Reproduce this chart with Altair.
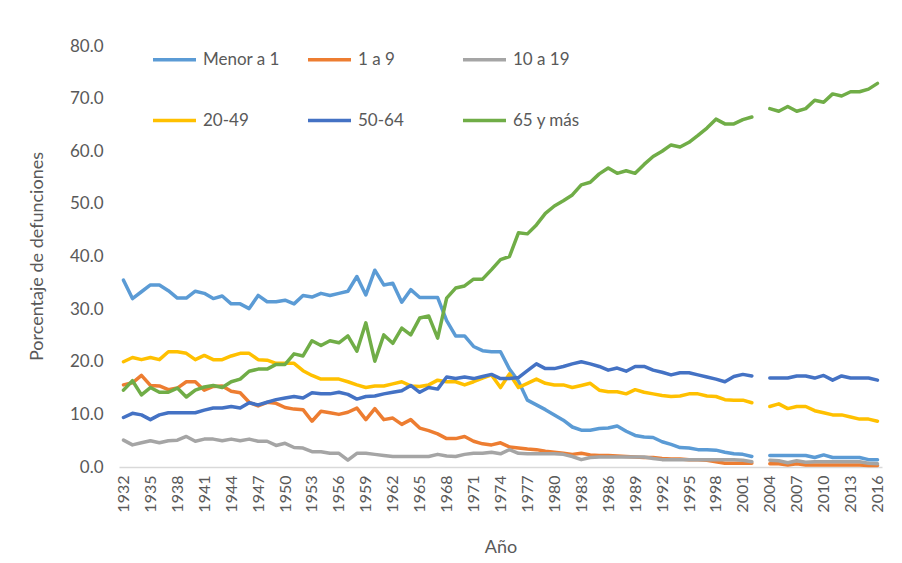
import altair as alt
import pandas as pd

years = list(range(1932, 2017))
label_years = list(range(1932, 2017, 3))
y_ticks = [0, 10, 20, 30, 40, 50, 60, 70, 80]

series_names = ["Menor a 1", "1 a 9", "10 a 19", "20-49", "50-64", "65 y más"]
series_colors = ["#5B9BD5", "#ED7D31", "#A5A5A5", "#FFC000", "#4472C4", "#70AD47"]

# values 1932..2002, then 2003 (missing), then 2004..2016
menor_a_1 = [
    35.5, 32.0, 33.3, 34.6, 34.6, 33.5, 32.1, 32.1, 33.4, 33.0,
    32.0, 32.5, 31.0, 31.0, 30.1, 32.6, 31.4, 31.4, 31.7, 31.0,
    32.6, 32.3, 33.0, 32.6, 33.0, 33.4, 36.2, 32.7, 37.4, 34.6,
    34.9, 31.3, 33.7, 32.2, 32.2, 32.2, 27.8, 24.9, 24.9, 22.9,
    22.1, 21.9, 21.9, 18.6, 16.3, 12.7, 11.8, 10.9, 9.9, 8.9,
    7.6, 7.0, 7.0, 7.3, 7.4, 7.8, 6.8, 6.0, 5.7, 5.6,
    4.8, 4.3, 3.7, 3.6, 3.3, 3.3, 3.2, 2.8, 2.5, 2.4, 2.0,
    None,
    2.2, 2.2, 2.2, 2.2, 2.2, 1.8, 2.3, 1.8, 1.8, 1.8, 1.8, 1.4, 1.4,
]
uno_a_9 = [
    15.6, 16.0, 17.4, 15.5, 15.4, 14.7, 15.0, 16.2, 16.2, 14.6,
    15.3, 15.4, 14.4, 14.1, 12.3, 11.6, 12.3, 12.1, 11.3, 11.0,
    10.9, 8.7, 10.6, 10.3, 10.0, 10.4, 11.2, 9.0, 11.1, 9.0,
    9.3, 8.1, 9.0, 7.4, 6.9, 6.3, 5.4, 5.4, 5.8, 4.9,
    4.4, 4.2, 4.6, 3.8, 3.6, 3.4, 3.3, 3.0, 2.8, 2.6,
    2.4, 2.6, 2.3, 2.2, 2.2, 2.1, 2.0, 1.9, 1.8, 1.8,
    1.6, 1.5, 1.5, 1.4, 1.4, 1.3, 1.0, 0.7, 0.7, 0.7, 0.7,
    None,
    0.6, 0.6, 0.4, 0.6, 0.4, 0.4, 0.4, 0.4, 0.4, 0.4, 0.4, 0.3, 0.3,
]
diez_a_19 = [
    5.1, 4.2, 4.6, 5.0, 4.6, 5.0, 5.1, 5.8, 4.9, 5.3,
    5.3, 5.0, 5.3, 5.0, 5.3, 4.9, 4.9, 4.1, 4.5, 3.7,
    3.6, 2.9, 2.9, 2.6, 2.6, 1.3, 2.6, 2.6, 2.4, 2.2,
    2.0, 2.0, 2.0, 2.0, 2.0, 2.4, 2.1, 2.0, 2.4, 2.6,
    2.6, 2.8, 2.5, 3.3, 2.6, 2.5, 2.5, 2.5, 2.5, 2.4,
    2.0, 1.4, 1.8, 1.9, 1.9, 1.9, 1.9, 1.9, 1.9, 1.6,
    1.4, 1.4, 1.4, 1.4, 1.4, 1.4, 1.4, 1.4, 1.4, 1.3, 1.0,
    None,
    1.3, 1.2, 0.8, 1.2, 0.9, 1.0, 1.0, 1.0, 1.0, 1.0, 1.0, 0.7, 0.6,
]
veinte_49 = [
    20.0, 20.8, 20.4, 20.8, 20.4, 21.9, 21.9, 21.6, 20.4, 21.2,
    20.4, 20.4, 21.1, 21.6, 21.6, 20.4, 20.3, 19.7, 19.7, 19.7,
    18.3, 17.4, 16.7, 16.7, 16.7, 16.2, 15.6, 15.1, 15.4, 15.4,
    15.8, 16.2, 15.4, 15.3, 15.6, 16.5, 16.2, 16.2, 15.6, 16.2,
    16.9, 17.5, 15.1, 17.7, 15.1, 15.9, 16.7, 15.9, 15.6, 15.6,
    15.1, 15.5, 15.9, 14.6, 14.3, 14.3, 13.9, 14.7, 14.2, 13.9,
    13.6, 13.4, 13.5, 13.9, 13.9, 13.5, 13.4, 12.8, 12.7, 12.7, 12.2,
    None,
    11.5, 12.0, 11.1, 11.5, 11.5, 10.7, 10.3, 9.9, 9.9, 9.5, 9.1, 9.1, 8.7,
]
cincuenta_64 = [
    9.4, 10.2, 9.9, 9.0, 9.9, 10.3, 10.3, 10.3, 10.3, 10.8,
    11.2, 11.2, 11.5, 11.2, 12.2, 11.8, 12.3, 12.8, 13.1, 13.4,
    13.1, 14.1, 13.9, 13.9, 14.2, 13.8, 12.9, 13.4, 13.5, 13.9,
    14.2, 14.5, 15.5, 14.2, 15.1, 14.8, 17.1, 16.8, 17.1, 16.8,
    17.2, 17.6, 16.8, 16.8, 17.0, 18.3, 19.6, 18.7, 18.7, 19.1,
    19.6, 20.0, 19.6, 19.1, 18.4, 18.8, 18.2, 19.1, 19.1, 18.4,
    18.0, 17.5, 17.9, 17.9, 17.5, 17.1, 16.7, 16.2, 17.2, 17.6, 17.3,
    None,
    16.9, 16.9, 16.9, 17.3, 17.3, 16.9, 17.4, 16.5, 17.3, 16.9, 16.9, 16.9, 16.5,
]
sesenta5_mas = [
    14.6, 16.4, 13.7, 15.1, 14.2, 14.2, 15.0, 13.3, 14.6, 15.2,
    15.5, 15.1, 16.2, 16.7, 18.2, 18.6, 18.6, 19.5, 19.5, 21.5,
    21.1, 24.0, 23.1, 24.0, 23.6, 24.9, 22.0, 27.4, 20.1, 25.1,
    23.5, 26.4, 25.1, 28.3, 28.7, 24.5, 32.1, 34.0, 34.4, 35.7,
    35.7, 37.5, 39.4, 40.0, 44.5, 44.3, 46.0, 48.2, 49.6, 50.6,
    51.7, 53.6, 54.1, 55.7, 56.8, 55.8, 56.3, 55.8, 57.5, 59.0,
    60.0, 61.2, 60.8, 61.7, 63.0, 64.4, 66.1, 65.2, 65.2, 66.0, 66.5,
    None,
    68.1, 67.6, 68.5, 67.6, 68.1, 69.7, 69.3, 70.9, 70.5, 71.3, 71.3, 71.8, 72.9,
]

series_values = [menor_a_1, uno_a_9, diez_a_19, veinte_49, cincuenta_64, sesenta5_mas]

rows = []
for name, vals in zip(series_names, series_values):
    for yr, v in zip(years, vals):
        if v is None:
            continue
        rows.append({"anio": yr, "valor": v, "serie": name,
                     "tramo": "a" if yr < 2003 else "b"})
df = pd.DataFrame(rows)

TXT = "#595959"
FONT = "Lato"

chart = (
    alt.Chart(df)
    .mark_line(strokeWidth=3.5, strokeJoin="round", strokeCap="round")
    .encode(
        x=alt.X(
            "anio:O",
            scale=alt.Scale(domain=years),
            axis=alt.Axis(
                values=label_years,
                labelAngle=270,
                labelFont=FONT,
                labelFontSize=16,
                labelColor=TXT,
                labelPadding=8,
                ticks=False,
                domain=True,
                domainColor="#D9D9D9",
                domainWidth=1.5,
                title="Año",
                titleFont=FONT,
                titleFontSize=18,
                titleFontWeight="normal",
                titleColor=TXT,
                titleY=80,
                titleBaseline="middle",
            ),
        ),
        y=alt.Y(
            "valor:Q",
            scale=alt.Scale(domain=[0, 80], nice=False),
            axis=alt.Axis(
                values=y_ticks,
                format=".1f",
                grid=False,
                domain=False,
                ticks=False,
                labelFont=FONT,
                labelFontSize=17,
                labelColor=TXT,
                labelPadding=16,
                title="Porcentaje de defunciones",
                titleFont=FONT,
                titleFontSize=18,
                titleFontWeight="normal",
                titleColor=TXT,
                titleAngle=270,
                titleX=-82,
                titleY=210,
                titleAlign="center",
                titleBaseline="middle",
            ),
        ),
        color=alt.Color(
            "serie:N",
            scale=alt.Scale(domain=series_names, range=series_colors),
            legend=alt.Legend(
                title=None,
                orient="none",
                direction="horizontal",
                legendX=32,
                legendY=-10,
                columns=3,
                symbolType="stroke",
                symbolSize=1850,
                symbolStrokeWidth=3.5,
                labelFont=FONT,
                labelFontSize=17,
                labelColor=TXT,
                labelOffset=5,
                columnPadding=20,
                rowPadding=29,
                gridAlign="all",
            ),
        ),
        detail="tramo:N",
    )
    .properties(
        width=763,
        height=421,
        autosize=alt.AutoSizeParams(type="none"),
        padding={"left": 111, "top": 38, "right": 12, "bottom": 88},
    )
    .configure_view(strokeWidth=0)
)

chart.save("out.html", embed_options={"renderer": "svg", "actions": False})
